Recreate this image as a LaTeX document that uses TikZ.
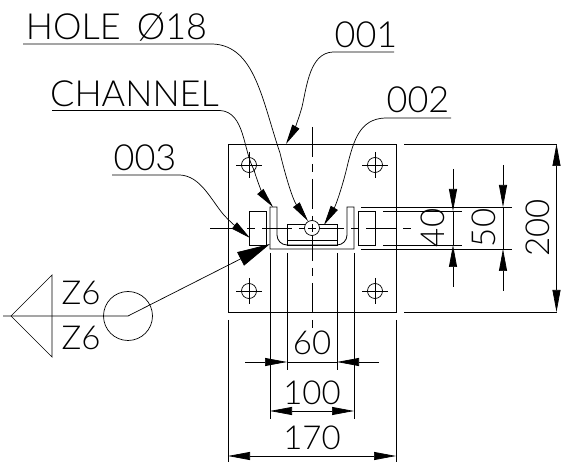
\documentclass[tikz,border=0pt]{standalone}
\usepackage{fontspec}
\setmainfont{Lato Light}
\usetikzlibrary{arrows.meta,positioning}
\tikzset{
  part/.style={draw, rectangle, line width=0.8pt, inner sep=0pt, outer sep=0pt},
  bore/.style={draw, circle, line width=0.7pt, minimum size=15pt, inner sep=0pt},
  thin line/.style={line width=0.7pt},
  center line/.style={line width=0.7pt, dash pattern=on 30pt off 7pt on 8pt off 7pt},
  leader/.style={line width=0.7pt, -{Triangle[length=20pt,width=8pt]}},
  dimen/.style={line width=0.7pt, {Triangle[length=22pt,width=8pt]}-{Triangle[length=22pt,width=8pt]}},
  tip/.style={line width=0.7pt, -{Triangle[length=22pt,width=8pt]}},
  label text/.style={inner sep=0pt, font=\fontsize{33}{33}\selectfont},
  title text/.style={inner sep=0pt, font=\fontsize{36}{36}\selectfont},
}
\begin{document}
\begin{tikzpicture}[x=1pt,y=-1pt]
\useasboundingbox (0,0) rectangle (566,462);
\node (plate)[part, minimum width=168pt, minimum height=168pt] at (312,228) {};
\foreach \name/\px/\py in {holeA/249/165, holeB/375/165, holeC/249/291, holeD/375/291} {
  \node (\name)[bore] at (\px,\py) {};
  \draw [thin line](\px-13,\py)--(\px+13,\py);
  \draw [thin line](\px,\py-13)--(\px,\py+13);
}
\node (leftblock)[part, minimum width=17pt, minimum height=34pt] at (257.5,228) {};
\node (rightblock)[part, minimum width=17pt, minimum height=34pt] at (366.5,228) {};
\node (washer)[part, minimum width=50pt, minimum height=21pt] at (312,234.5) {};
\draw [part](287,240.5)--(337,240.5);
\draw [part](270,207)--(277,207)--(277,235) arc[start angle=180, end angle=90, radius=10]--(337,245) arc[start angle=90, end angle=0, radius=10]--(347,207)--(354,207)--(354,249)--(270,249)--cycle;
\draw [center line](210,228)--(414,228);
\draw [center line](312,127)--(312,330);
\node (bolt)[bore, fill=white] at (312,228) {};
\draw [thin line](308,228)--(316,228);
\draw [thin line](312,224)--(312,232);

\draw [thin line](228,320)--(228,462);
\draw [thin line](396,320)--(396,462);
\draw [thin line](270,253)--(270,419);
\draw [thin line](354,253)--(354,419);
\draw [thin line](287,253)--(287,370);
\draw [thin line](337,253)--(337,370);
\draw [thin line](404,144)--(557,144);
\draw [thin line](404,312)--(557,312);
\draw [thin line](361,207)--(512,207);
\draw [thin line](361,249)--(512,249);
\draw [thin line](383,211)--(462,211);
\draw [thin line](383,245)--(462,245);

\node (dimsixty)[label text] at (312,343) {60};
\node (dimhundred)[label text] at (312,393) {100};
\node (dimplate)[label text] at (312,438) {170};
\node (dimforty)[label text, rotate=90] at (433,228) {40};
\node (dimfifty)[label text, rotate=90] at (484,228) {50};
\node (dimheight)[label text, rotate=90] at (538,228) {200};

\draw [tip](245,362)--(287,362);
\draw [tip](379,362)--(337,362);
\draw [thin line](287,362)--(337,362);
\draw [dimen](270,411)--(354,411);
\draw [dimen](228,456)--(396,456);
\draw [dimen](556.5,144)--(556.5,312);
\draw [tip](453,169)--(453,211);
\draw [tip](453,287)--(453,245);
\draw [thin line](453,211)--(453,245);
\draw [tip](503,165)--(503,207);
\draw [tip](503,291)--(503,249);
\draw [thin line](503,207)--(503,249);

\node (holelabel)[title text] at (116.5,27) {HOLE\hspace{16pt}Ø18};
\node (channellabel)[title text] at (134.5,94) {CHANNEL};
\node (backlabel)[title text] at (145,157.5) {003};
\node (platelabel)[title text] at (366,34.5) {001};
\node (washerlabel)[title text] at (418,100) {002};

\coordinate (holetip) at (308,221);
\coordinate (channeltip) at (273,207);
\coordinate (backtip) at (250,238);
\coordinate (platetip) at (286,144);
\coordinate (washertip) at (324,225);

\draw [leader](23,44)--(213,44) .. controls (255,46) and (262,100) .. (280,153) .. controls (286,178) and (293,200) .. (holetip);
\draw [leader](52,110.5)--(220,110.5) .. controls (245,112) and (243,150) .. (254,170) .. controls (258,184) and (264,196) .. (channeltip);
\draw [leader](112,175)--(180,175) .. controls (200,176) and (210,198) .. (223,214) .. controls (230,222) and (240,230) .. (backtip);
\draw [leader](394,52)--(333,52) .. controls (310,53) and (307,85) .. (302,107) .. controls (299,118) and (294,130) .. (platetip);
\draw [leader](451,118)--(385,118) .. controls (360,119) and (354,140) .. (348,163) .. controls (343,185) and (336,205) .. (washertip);

\coordinate (weldtip) at (270,244);
\node (weldring)[draw, circle, line width=0.7pt, minimum size=49pt, inner sep=0pt] at (128,316) {};
\draw [line width=0.7pt, -{Triangle[length=33pt,width=15pt]}](3,316)--(weldring.center)--(weldtip);
\draw [thin line](52,275)--(11,316)--(52,357)--cycle;
\node (weldtop)[label text] at (81,293) {Z6};
\node (weldbottom)[label text] at (81,338) {Z6};
\end{tikzpicture}
\end{document}
